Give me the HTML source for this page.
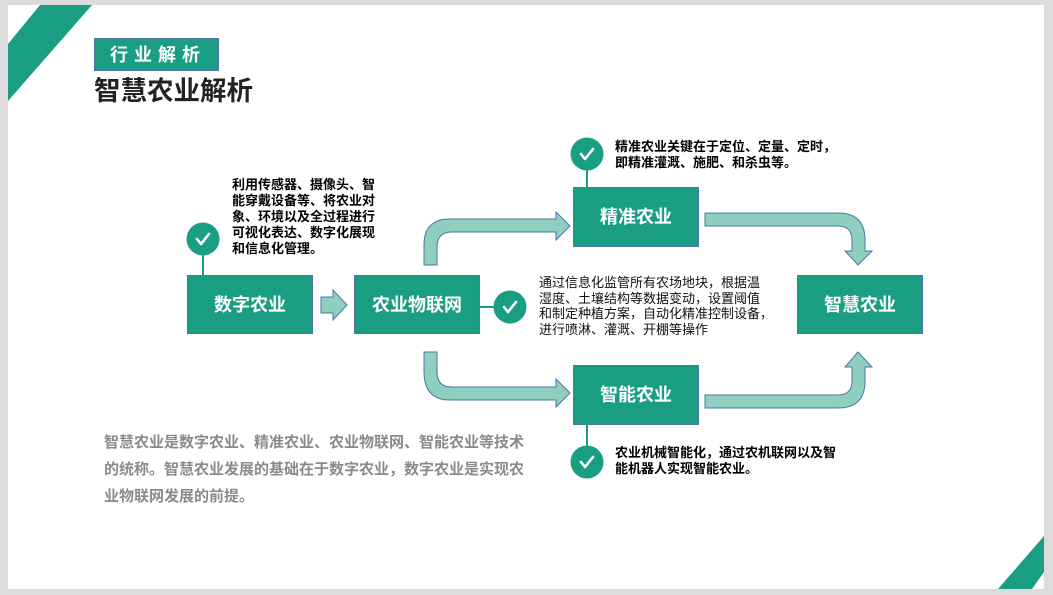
<!DOCTYPE html>
<html><head><meta charset="utf-8"><style>
html,body{margin:0;padding:0;width:1053px;height:595px;overflow:hidden;background:#dcdcdc;}
.slide{position:absolute;left:8px;top:5px;width:1036px;height:584px;background:#fff;}
.t{position:absolute;font-family:"Liberation Sans","Noto Sans CJK SC",sans-serif;white-space:nowrap;}
</style></head><body>
<div class="slide"></div>
<svg width="1053" height="595" style="position:absolute;left:0;top:0" font-family="Liberation Sans, Noto Sans CJK SC, sans-serif">
<polygon points="40,5 92,5 8,101 8,44" fill="#1a9e82"/>
<polygon points="998,589 1032,589 1044,572 1044,536" fill="#1a9e82"/>
<rect x="94.5" y="38.5" width="124" height="32" fill="#1a9e82" stroke="#4f74a8" stroke-width="1"/>
<g fill="#8ecfc0" stroke="#4f74a8" stroke-width="1">
<polygon points="321,297 333,297 333,290 347,305 333,320 333,313 321,313"/>
<path d="M424,265 V245 Q424,219 450,219 H556 V212 L570,226 L556,240 V232 H452 Q437,232 437,247 V265 Z"/>
<path d="M424,352 V372 Q424,400 450,400 H556 V407 L570,393 L556,379 V387 H452 Q437,387 437,372 V352 Z"/>
<path d="M705,213 H838 Q865,213 865,240 V251 H872 L858,265 L845,251 H852 V240 Q852,226 838,226 H705 Z"/>
<path d="M705,408 H838 Q865,408 865,381 V367 H872 L858,352 L845,367 H852 V381 Q852,395 838,395 H705 Z"/>
</g>
<g fill="#1a9e82" stroke="#4f74a8" stroke-width="1">
<rect x="187.5" y="275.5" width="125" height="58"/>
<rect x="354.5" y="275.5" width="125" height="58"/>
<rect x="573.5" y="187.5" width="125" height="59"/>
<rect x="573.5" y="365.5" width="125" height="59"/>
<rect x="797.5" y="275.5" width="125" height="58"/>
</g>
<g stroke="#1a9e82" stroke-width="2">
<line x1="203" y1="250" x2="203" y2="275"/>
<line x1="587" y1="165" x2="587" y2="187"/>
<line x1="480" y1="307" x2="498" y2="307"/>
<line x1="587" y1="424" x2="587" y2="450"/>
</g>
<g fill="#1a9e82">
<circle cx="203" cy="239" r="16.5"/><circle cx="587" cy="154" r="16.5"/>
<circle cx="510" cy="307" r="16.5"/><circle cx="587" cy="462" r="16.5"/>
</g>
<g fill="none" stroke="#fff" stroke-width="2.6" stroke-linecap="round" stroke-linejoin="round">
<path d="M197,239 l4,5 l8,-10"/><path d="M581,154 l4,5 l8,-10"/>
<path d="M504,307 l4,5 l8,-10"/><path d="M581,462 l4,5 l8,-10"/>
</g>
<g fill="#fff" font-weight="bold" font-size="18" text-anchor="middle">
<text x="250" y="311">数字农业</text>
<text x="417" y="311">农业物联网</text>
<text x="636" y="223">精准农业</text>
<text x="636" y="401">智能农业</text>
<text x="860" y="311">智慧农业</text>
<text x="158" y="61" letter-spacing="6">行业解析</text>
</g>
<text x="94" y="100" font-size="26.5" font-weight="bold" fill="#222">智慧农业解析</text>
</svg>
<div class="t" style="left:232px;top:177px;font-size:13px;line-height:16px;font-weight:bold;color:#000;">利用传感器、摄像头、智<br>能穿戴设备等、将农业对<br>象、环境以及全过程进行<br>可视化表达、数字化展现<br>和信息化管理。</div>
<div class="t" style="left:615px;top:139px;font-size:13px;line-height:16px;font-weight:bold;color:#000;">精准农业关键在于定位、定量、定时，<br>即精准灌溉、施肥、和杀虫等。</div>
<div class="t" style="left:539px;top:275px;font-size:13px;line-height:15.5px;color:#111;">通过信息化监管所有农场地块，根据温<br>湿度、土壤结构等数据变动，设置阈值<br>和制定种植方案，自动化精准控制设备，<br>进行喷淋、灌溉、开棚等操作</div>
<div class="t" style="left:615px;top:445px;font-size:13px;line-height:16px;font-weight:bold;color:#000;">农业机械智能化，通过农机联网以及智<br>能机器人实现智能农业。</div>
<div class="t" style="left:104px;top:429px;font-size:15px;line-height:27px;font-weight:bold;color:#8a8a8a;">智慧农业是数字农业、精准农业、农业物联网、智能农业等技术<br>的统称。智慧农业发展的基础在于数字农业，数字农业是实现农<br>业物联网发展的前提。</div>
</body></html>
